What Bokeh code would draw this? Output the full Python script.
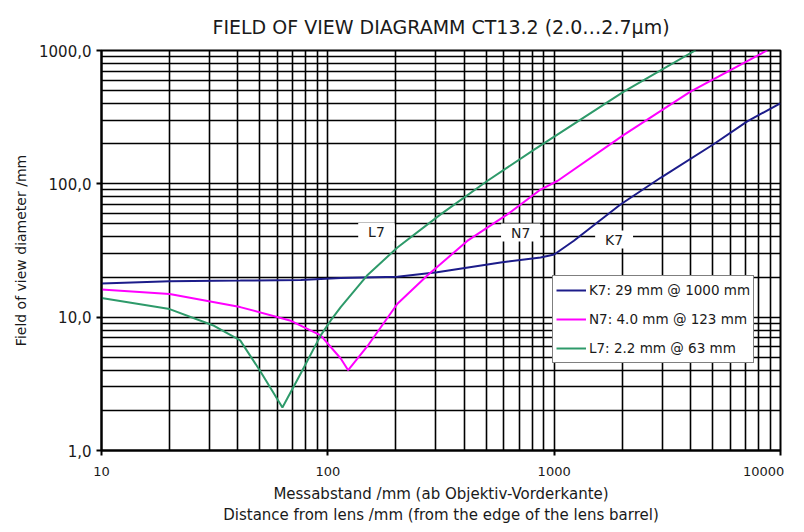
from bokeh.plotting import figure
from bokeh.models import (FixedTicker, CustomJSTickFormatter, Legend, LegendItem,
                          Label, Range1d)
from bokeh.embed import file_html
from bokeh.resources import INLINE

# ---- data ----
title_text = "FIELD OF VIEW DIAGRAMM CT13.2 (2.0\u20262.7\u00b5m)"
x_label = "Messabstand /mm (ab Objektiv-Vorderkante)\nDistance from lens /mm (from the edge of the lens barrel)"
y_label = "Field of view diameter /mm"

x_ticks = [10, 100, 1000, 10000]
y_ticks = [1, 10, 100, 1000]

k7_dist = [10, 20, 41, 76, 114, 203, 304, 580, 871, 1000, 1222, 1963, 2952, 5080, 7130, 9980]
k7_diam = [17.9, 18.6, 18.8, 19.0, 19.7, 20.1, 21.7, 25.7, 28.0, 29.5, 37.4, 70, 111, 199, 294, 402]

n7_dist = [10, 20, 41, 68, 93, 114, 123, 149, 203, 275, 413, 621, 871, 1033, 2031, 4000, 8750]
n7_diam = [16.1, 14.9, 11.9, 9.45, 7.3, 4.9, 4.0, 6.0, 12.6, 20.5, 37.3, 59, 90.6, 105, 233, 492, 1005]

l7_dist = [10, 20, 31, 41, 50, 63, 76, 93, 103, 114, 149, 203, 315, 506, 813, 2031, 4217]
l7_diam = [13.9, 11.5, 8.7, 6.7, 4.0, 2.1, 3.8, 7.3, 9.45, 11.9, 20.5, 33.3, 59, 105, 180, 492, 1005]

legend_labels = ["K7: 29 mm @ 1000 mm", "N7: 4.0 mm @ 123 mm", "L7: 2.2 mm @ 63 mm"]
curve_names = ["K7", "N7", "L7"]
colors = ["#1c1c8a", "#ff00ff", "#2e9a6a"]

FONT = "DejaVu Sans"
TXT = "#1a1a1a"
NB = "\u00a0"

def minors(decades):
    out = []
    for d in decades:
        for m in range(2, 10):
            out.append(m * d)
    return out

p = figure(frame_width=679, frame_height=400,
           x_axis_type="log", y_axis_type="log",
           x_range=Range1d(10, 10000), y_range=Range1d(1, 1000),
           output_backend="svg", toolbar_location=None,
           min_border_left=101, min_border_right=8,
           min_border_top=49, min_border_bottom=67,
           title=title_text)

p.title.align = "center"
p.title.text_font = FONT
p.title.text_font_size = "19px"
p.title.text_font_style = "normal"
p.title.text_color = TXT
p.title.standoff = 26

xt = FixedTicker(ticks=x_ticks, minor_ticks=minors([10, 100, 1000]))
yt = FixedTicker(ticks=y_ticks, minor_ticks=minors([1, 10, 100]))
p.xaxis.ticker = xt
p.yaxis.ticker = yt
p.xgrid.ticker = xt
p.ygrid.ticker = yt

# the last x label is padded on its right with a no-break space so that it
# stays inside the canvas
p.xaxis.formatter = CustomJSTickFormatter(
    code="var s = tick.toFixed(0); return tick >= 10000 ? s + '\\u00a0' : s;")
p.yaxis.formatter = CustomJSTickFormatter(code="return tick.toFixed(1).replace('.', ',');")

for ax in (p.xaxis, p.yaxis):
    ax.axis_line_color = "black"
    ax.axis_line_width = 2
    ax.major_tick_line_color = "black"
    ax.major_tick_line_width = 2
    ax.major_tick_out = 5
    ax.major_tick_in = 0
    ax.minor_tick_out = 0
    ax.minor_tick_in = 0
    ax.major_label_text_font = FONT
    ax.major_label_text_color = TXT
    ax.axis_label_text_font = FONT
    ax.axis_label_text_font_style = "normal"
    ax.axis_label_text_color = TXT

p.xaxis.major_label_text_font_size = "13px"
p.yaxis.major_label_text_font_size = "15px"
p.xaxis.axis_label_text_font_size = "15px"
p.yaxis.axis_label_text_font_size = "14px"
p.xaxis.axis_label = x_label
p.yaxis.axis_label = y_label
p.xaxis.major_label_standoff = 8
p.yaxis.major_label_standoff = 5
p.xaxis.axis_label_standoff = 3
p.yaxis.axis_label_standoff = 7

for g in (p.xgrid, p.ygrid):
    g.grid_line_color = "black"
    g.grid_line_width = 1.6
    g.grid_line_alpha = 1.0
    g.minor_grid_line_color = "black"
    g.minor_grid_line_width = 1.6

p.outline_line_color = "black"
p.outline_line_width = 2
p.background_fill_color = "white"
p.border_fill_color = "white"

r_k7 = p.line(k7_dist, k7_diam, line_color=colors[0], line_width=2)
r_n7 = p.line(n7_dist, n7_diam, line_color=colors[1], line_width=2)
r_l7 = p.line(l7_dist, l7_diam, line_color=colors[2], line_width=2)

legend = Legend(items=[LegendItem(label=legend_labels[0], renderers=[r_k7]),
                       LegendItem(label=legend_labels[1], renderers=[r_n7]),
                       LegendItem(label=legend_labels[2], renderers=[r_l7])],
                location=(451, 87))
legend.margin = 0
legend.padding = 3
legend.spacing = 7
legend.label_height = 22
legend.glyph_height = 22
legend.glyph_width = 30
legend.label_standoff = 3
legend.label_text_font = FONT
legend.label_text_font_size = "13.5px"
legend.label_text_color = TXT
legend.border_line_color = "black"
legend.border_line_width = 1
legend.background_fill_color = "white"
legend.background_fill_alpha = 1.0
p.add_layout(legend)

label_pos = [(1840, 38.2), (711, 43.1), (164, 43.5)]
for name, (lx, ly) in zip(curve_names, label_pos):
    p.add_layout(Label(x=lx, y=ly, text=NB * 2 + name + NB * 2,
                       text_align="center", text_baseline="middle",
                       text_font=FONT, text_font_size="14px", text_color=TXT,
                       background_fill_color="white", background_fill_alpha=1.0,
                       padding=1))

open("out.html", "w").write(file_html(p, INLINE))
